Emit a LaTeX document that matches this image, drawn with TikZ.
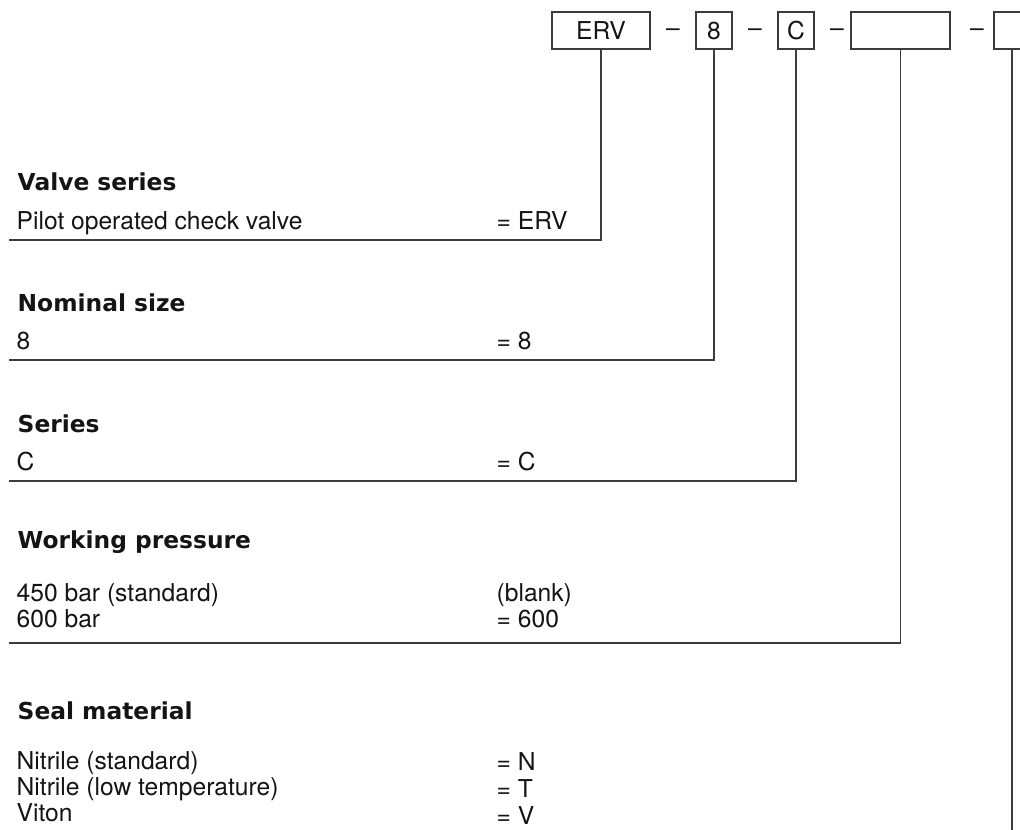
\documentclass[tikz,border=0pt]{standalone}
\usepackage{fontspec}
\setmainfont{TeX Gyre Heros}
\newfontfamily\headfont{DejaVu Sans}
\usetikzlibrary{positioning}
\definecolor{rulegrey}{RGB}{60,60,60}
\definecolor{inkblack}{RGB}{20,20,20}

\begin{document}
\begin{tikzpicture}[
  x=0.01cm, y=-0.01cm,
  font=\fontsize{7}{8}\selectfont,
  codebox/.style={rectangle, draw=rulegrey, line width=0.5pt,
              minimum height=0.37cm, inner sep=0pt, text=inkblack},
  dashlbl/.style={inner sep=0pt, text=inkblack},
  sechead/.style={anchor=base west, inner sep=0pt, text=inkblack,
              font=\headfont\bfseries\fontsize{6.64}{8}\selectfont},
  opt/.style={anchor=base west, inner sep=0pt, text=inkblack},
  lead/.style={draw=rulegrey, line width=0.5pt}
]

% ── Page frame (last box runs off the edge) ──
\clip (0,0) rectangle (1020,830);

% ── Code boxes along the top ──
\node[codebox, minimum width=0.98cm] (erv)  at (601,  30.5) {ERV};
\node[codebox, minimum width=0.36cm] (size) at (714,  30.5) {8};
\node[codebox, minimum width=0.36cm] (ser)  at (796,  30.5) {C};
\node[codebox, minimum width=0.99cm] (pres) at (900.5,30.5) {};
\node[codebox, minimum width=0.36cm] (seal) at (1012, 30.5) {};

\node[dashlbl] (d1) at (673, 33) {--};
\node[dashlbl] (d2) at (755, 33) {--};
\node[dashlbl] (d3) at (837, 33) {--};
\node[dashlbl] (d4) at (977, 33) {--};

% ── Valve series ──
\node[sechead] (vshead) at (17, 190) {Valve series};
\node[opt] (vs1)  at (16,  229) {Pilot operated check valve};
\node[opt] (vs1c) at (496, 229) {= ERV};

% ── Nominal size ──
\node[sechead] (nshead) at (17, 311) {Nominal size};
\node[opt] (ns1)  at (16,  349) {8};
\node[opt] (ns1c) at (496, 349) {= 8};

% ── Series ──
\node[sechead] (srhead) at (17, 432) {Series};
\node[opt] (sr1)  at (16,  470) {C};
\node[opt] (sr1c) at (496, 470) {= C};

% ── Working pressure ──
\node[sechead] (wphead) at (17, 548) {Working pressure};
\node[opt] (wp1)  at (16,  601) {450 bar (standard)};
\node[opt] (wp1c) at (496, 601) {(blank)};
\node[opt] (wp2)  at (16,  627) {600 bar};
\node[opt] (wp2c) at (496, 627) {= 600};

% ── Seal material ──
\node[sechead] (smhead) at (17, 719) {Seal material};
\node[opt] (sm1)  at (16,  769) {Nitrile (standard)};
\node[opt] (sm1c) at (496, 770) {= N};
\node[opt] (sm2)  at (16,  795) {Nitrile (low temperature)};
\node[opt] (sm2c) at (496, 797) {= T};
\node[opt] (sm3)  at (16,  821) {Viton};
\node[opt] (sm3c) at (496, 824) {= V};

% ── Leader lines: box bottom down, then left under its section ──
\coordinate (vsend) at (9, 240);
\coordinate (nsend) at (9, 360);
\coordinate (srend) at (9, 481);
\coordinate (wpend) at (9, 643);
\coordinate (smend) at (1012, 840);

\draw[lead] (erv.south)  |- (vsend);
\draw[lead] (size.south) |- (nsend);
\draw[lead] (ser.south)  |- (srend);
\draw[lead] (pres.south) |- (wpend);
\draw[lead] (seal.south) -- (smend);

\end{tikzpicture}
\end{document}
